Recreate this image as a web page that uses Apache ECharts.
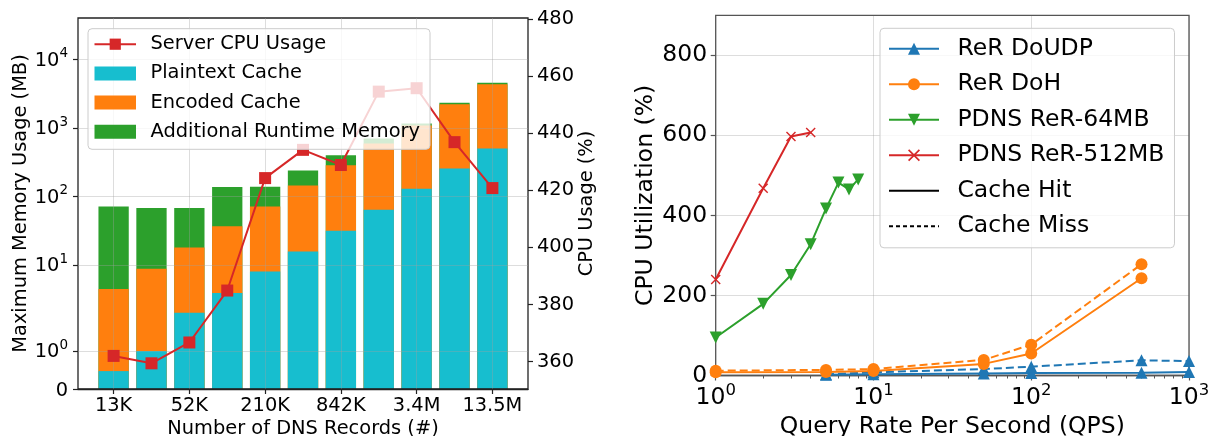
<!DOCTYPE html>
<html>
<head>
<meta charset="utf-8">
<script src="https://cdn.jsdelivr.net/npm/echarts@6/dist/echarts.min.js"></script>
<style>
  html, body { margin: 0; padding: 0; background: #fff; }
  #chart { width: 1209px; height: 436px; }
</style>
</head>
<body>
<div id="chart"></div>
<script>
// ---- Memory footprint per zone size (MB), and server CPU usage (%) ----
const recordCounts = ['13K', '26K', '52K', '105K', '210K', '421K', '842K', '1.7M', '3.4M', '6.7M', '13.5M'];
const plaintextCache = [0.47, 1.0, 2.0, 3.9, 8.0, 15.7, 31.6, 64, 129, 255, 500];
const encodedCache = [4.0, 7.8, 16.0, 32.6, 63, 128, 253, 527, 955, 1943, 3805];
const additionalRuntime = [66.4, 59.1, 49.9, 101, 66.7, 94, 114, 109, 75, 130, 255];
const serverCpu = [362.0, 359.4, 366.7, 384.9, 424.3, 434.2, 428.9, 454.6, 455.8, 436.9, 420.8];
const memoryTicks = [0, 1, 10, 100, 1000, 10000];
const memoryMax = 40000;
const cpuTicks = [360, 380, 400, 420, 440, 460, 480];
const recordLabelIdx = [0, 2, 4, 6, 8, 10];

// ---- CPU utilisation vs query rate ----
const doudpQps = [5, 10, 50, 100, 500, 1000];
const doudpHit = [2, 3, 5, 6, 7, 9];
const doudpMiss = [3, 8, 16, 22, 38, 36];
const dohQps = [1, 5, 10, 50, 100, 500];
const dohHit = [8, 9, 11, 29, 55, 243];
const dohMiss = [12, 14, 16, 39, 77, 278];
const pdns64Qps = [1, 2, 3, 4, 5, 6, 7, 8];
const pdns64Hit = [95, 179, 251, 328, 417, 482, 465, 490];
const pdns512Qps = [1, 2, 3, 4];
const pdns512Hit = [240, 468, 597, 607];
const qpsTicks = [1, 10, 100, 1000];
const utilTicks = [0, 200, 400, 600, 800];

const FONT = 'DejaVu Sans';
const GRID = 'rgba(160,160,160,0.36)';
const C = { blue: '#1f77b4', orange: '#ff7f0e', green: '#2ca02c', red: '#d62728', cyan: '#17becf' };

// symmetric log scale, linear below LINTHRESH
const LINTHRESH = 2;
const LINSCALE = 1 / (1 - 1 / 10);
function symlog(v) {
  return v <= LINTHRESH ? v / LINTHRESH * LINSCALE : LINSCALE + Math.log10(v / LINTHRESH);
}

// Each layer is drawn as a bar from 0 up to its cumulative total, outermost first,
// so the stack reads correctly on the non-linear scale.
const layers = [plaintextCache, encodedCache, additionalRuntime];
function cumulativeTops(k) {
  return recordCounts.map((_, i) => {
    let total = 0;
    for (let j = 0; j <= k; j++) total += layers[j][i];
    return [i, symlog(total)];
  });
}

const xPad = 0.4 + 0.05 * (recordCounts.length - 1 + 0.8);

function powLabel(exp) {
  return '{b|10}{s|' + exp + '}';
}

const memTickPos = memoryTicks.map(symlog);
function memLabel(v) {
  let best = 0;
  memTickPos.forEach((p, i) => { if (Math.abs(p - v) < Math.abs(memTickPos[best] - v)) best = i; });
  const t = memoryTicks[best];
  return t === 0 ? '{b|0}' : powLabel(Math.round(Math.log10(t)));
}

const qpsTickPos = qpsTicks.map(Math.log10);
const pts = (xs, ys) => xs.map((q, i) => [Math.log10(q), ys[i]]);
const X_PATH = 'path://M1,0 L5,4 L9,0 L10,1 L6,5 L10,9 L9,10 L5,6 L1,10 L0,9 L4,5 L0,1 Z';

const leftGrid = { left: 78, top: 18, width: 450, height: 371 };
const rightGrid = { left: 715.7, top: 15.3, width: 473.3, height: 360.2 };
const gridBase = { containLabel: false, outerBoundsMode: 'none' };

const barCommon = { type: 'bar', xAxisIndex: 0, yAxisIndex: 0, barWidth: 30.3, barGap: '-100%', z: 2 };

const option = {
  animation: false,
  backgroundColor: '#fff',
  textStyle: { fontFamily: FONT },
  grid: [
    Object.assign({ show: true, borderColor: '#222', borderWidth: 1.3, z: 3 }, gridBase, leftGrid),
    Object.assign({ show: true, borderColor: '#555', borderWidth: 1.3, z: 3 }, gridBase, rightGrid),
    Object.assign({ show: false }, gridBase, rightGrid)
  ],
  xAxis: [
    {
      gridIndex: 0, type: 'value', min: -xPad, max: recordCounts.length - 1 + xPad,
      name: 'Number of DNS Records (#)', nameLocation: 'middle', nameGap: 28.5,
      nameTextStyle: { fontSize: 19.4, fontFamily: FONT, color: '#000' },
      axisLine: { show: true, onZero: false, lineStyle: { color: '#222', width: 1.3 } },
      axisTick: { show: true, customValues: recordLabelIdx, length: 5, lineStyle: { color: '#222', width: 1.2 } },
      axisLabel: {
        customValues: recordLabelIdx, margin: 7, fontSize: 19.4, fontFamily: FONT, color: '#000',
        formatter: v => recordCounts[Math.round(v)]
      },
      splitLine: { show: true, lineStyle: { color: GRID, width: 1 } },
      z: 3
    },
    {
      gridIndex: 1, type: 'value', min: 0, max: 3,
      name: 'Query Rate Per Second (QPS)', nameLocation: 'middle', nameGap: 26,
      nameTextStyle: { fontSize: 23.5, fontFamily: FONT, color: '#000' },
      axisLine: { show: true, onZero: false, lineStyle: { color: '#555', width: 1.3 } },
      axisTick: { show: true, customValues: qpsTickPos, length: 5, lineStyle: { color: '#555', width: 1.2 } },
      axisLabel: {
        customValues: qpsTickPos, margin: 7, color: '#000',
        formatter: v => powLabel(Math.round(v)),
        rich: {
          b: { fontSize: 23.5, fontFamily: FONT, color: '#000' },
          s: { fontSize: 16.5, fontFamily: FONT, color: '#000', padding: [0, 0, 13, 0] }
        }
      },
      splitLine: { show: true, lineStyle: { color: GRID, width: 1 } }
    },
    {
      // minor ticks of the log axis
      gridIndex: 2, type: 'value', min: 0, max: 3,
      axisLine: { show: false, onZero: false },
      axisTick: {
        show: true, length: 3, lineStyle: { color: '#555', width: 1 },
        customValues: [0, 1, 2].flatMap(d => [2, 3, 4, 5, 6, 7, 8, 9].map(k => d + Math.log10(k)))
      },
      axisLabel: { show: false },
      splitLine: { show: false }
    }
  ],
  yAxis: [
    {
      gridIndex: 0, type: 'value', position: 'left', min: 0, max: symlog(memoryMax),
      name: 'Maximum Memory Usage (MB)', nameLocation: 'middle', nameGap: 47.5,
      nameTextStyle: { fontSize: 19.4, fontFamily: FONT, color: '#000' },
      axisLine: { show: false, onZero: false },
      axisTick: { show: true, customValues: memTickPos, length: 5, lineStyle: { color: '#222', width: 1.2 } },
      axisLabel: {
        customValues: memTickPos, margin: 10, color: '#000',
        formatter: memLabel,
        rich: {
          b: { fontSize: 19.4, fontFamily: FONT, color: '#000', padding: [3, 0, 0, 0] },
          s: { fontSize: 13.5, fontFamily: FONT, color: '#000', padding: [0, 0, 11, 0] }
        }
      },
      splitLine: { show: true, lineStyle: { color: GRID, width: 1 } },
      z: 3
    },
    {
      gridIndex: 0, type: 'value', position: 'right', min: 350.4, max: 480.4,
      name: 'CPU Usage (%)', nameLocation: 'middle', nameGap: 46,
      nameTextStyle: { fontSize: 19.4, fontFamily: FONT, color: '#000' },
      axisLine: { show: false, onZero: false },
      axisTick: { show: true, customValues: cpuTicks, length: 5, lineStyle: { color: '#222', width: 1.2 } },
      axisLabel: { customValues: cpuTicks, margin: 9, fontSize: 19.4, fontFamily: FONT, color: '#000' },
      splitLine: { show: false }
    },
    {
      gridIndex: 1, type: 'value', min: 0, max: 900,
      name: 'CPU Utilization (%)', nameLocation: 'middle', nameGap: 58,
      nameTextStyle: { fontSize: 23.5, fontFamily: FONT, color: '#000' },
      axisLine: { show: false, onZero: false },
      axisTick: { show: true, customValues: utilTicks, length: 5, lineStyle: { color: '#555', width: 1.2 } },
      axisLabel: { customValues: utilTicks, margin: 8.5, fontSize: 23.5, fontFamily: FONT, color: '#000' },
      splitLine: { show: true, lineStyle: { color: GRID, width: 1 } }
    },
    { gridIndex: 2, type: 'value', min: 0, max: 1, show: false }
  ],
  legend: [
    {
      orient: 'vertical', left: 88, top: 28.7,
      itemWidth: 41.5, itemHeight: 14, itemGap: 10.2,
      padding: [6, 10, 8, 5.5],
      backgroundColor: 'rgba(255,255,255,0.8)', borderColor: '#cccccc', borderWidth: 1, borderRadius: 4,
      textStyle: { fontSize: 19.4, fontFamily: FONT, color: '#000', padding: [0, 0, 0, 9.5] },
      selectedMode: false, z: 10,
      data: [
        { name: 'Server CPU Usage' },
        { name: 'Plaintext Cache', icon: 'rect' },
        { name: 'Encoded Cache', icon: 'rect' },
        { name: 'Additional Runtime Memory', icon: 'rect' }
      ]
    },
    {
      orient: 'vertical', left: 880, top: 28.3,
      itemWidth: 50, itemHeight: 15, itemGap: 11.5,
      padding: [8.5, 10, 9.5, 8],
      backgroundColor: 'rgba(255,255,255,0.8)', borderColor: '#cccccc', borderWidth: 1, borderRadius: 4,
      textStyle: { fontSize: 23.5, fontFamily: FONT, color: '#000', padding: [0, 0, 0, 13.4] },
      selectedMode: false, z: 10,
      data: [
        { name: 'ReR DoUDP' },
        { name: 'ReR DoH' },
        { name: 'PDNS ReR-64MB' },
        { name: 'PDNS ReR-512MB' },
        { name: 'Cache Hit', itemStyle: { opacity: 0 } },
        { name: 'Cache Miss', itemStyle: { opacity: 0 } }
      ]
    }
  ],
  series: [
    // memory bars: total first, then the two inner layers on top of it
    Object.assign({ name: 'Additional Runtime Memory', itemStyle: { color: C.green }, data: cumulativeTops(2) }, barCommon),
    Object.assign({ name: 'Encoded Cache', itemStyle: { color: C.orange }, data: cumulativeTops(1) }, barCommon),
    Object.assign({ name: 'Plaintext Cache', itemStyle: { color: C.cyan }, data: cumulativeTops(0) }, barCommon),
    { name: 'Server CPU Usage', type: 'line', xAxisIndex: 0, yAxisIndex: 1,
      data: serverCpu.map((v, i) => [i, v]),
      symbol: 'rect', symbolSize: 12, color: C.red,
      lineStyle: { width: 2, color: C.red }, itemStyle: { color: C.red }, z: 5 },

    // CPU utilisation lines
    { name: 'ReR DoUDP', type: 'line', xAxisIndex: 1, yAxisIndex: 2, data: pts(doudpQps, doudpHit),
      symbol: 'triangle', symbolSize: 12, color: C.blue, lineStyle: { width: 2, color: C.blue } },
    { name: 'ReR DoUDP (miss)', type: 'line', xAxisIndex: 1, yAxisIndex: 2, data: pts(doudpQps, doudpMiss),
      symbol: 'triangle', symbolSize: 12, color: C.blue, lineStyle: { width: 2, color: C.blue, type: [8, 4] } },
    { name: 'ReR DoH', type: 'line', xAxisIndex: 1, yAxisIndex: 2, data: pts(dohQps, dohHit),
      symbol: 'circle', symbolSize: 12, color: C.orange, lineStyle: { width: 2, color: C.orange } },
    { name: 'ReR DoH (miss)', type: 'line', xAxisIndex: 1, yAxisIndex: 2, data: pts(dohQps, dohMiss),
      symbol: 'circle', symbolSize: 12, color: C.orange, lineStyle: { width: 2, color: C.orange, type: [8, 4] } },
    { name: 'PDNS ReR-64MB', type: 'line', xAxisIndex: 1, yAxisIndex: 2, data: pts(pdns64Qps, pdns64Hit),
      symbol: 'triangle', symbolRotate: 180, symbolSize: 12, color: C.green, lineStyle: { width: 2, color: C.green } },
    { name: 'PDNS ReR-512MB', type: 'line', xAxisIndex: 1, yAxisIndex: 2, data: pts(pdns512Qps, pdns512Hit),
      symbol: X_PATH, symbolSize: 10, color: C.red, lineStyle: { width: 2, color: C.red } },
    { name: 'Cache Hit', type: 'line', xAxisIndex: 1, yAxisIndex: 2, data: [], symbol: 'none',
      color: '#000', lineStyle: { width: 2, color: '#000' } },
    { name: 'Cache Miss', type: 'line', xAxisIndex: 1, yAxisIndex: 2, data: [], symbol: 'none',
      color: '#000', lineStyle: { width: 2, color: '#000', type: [4, 3] } }
  ]
};

const chart = echarts.init(document.getElementById('chart'), null, { renderer: 'canvas' });
chart.setOption(option);
</script>
</body>
</html>
